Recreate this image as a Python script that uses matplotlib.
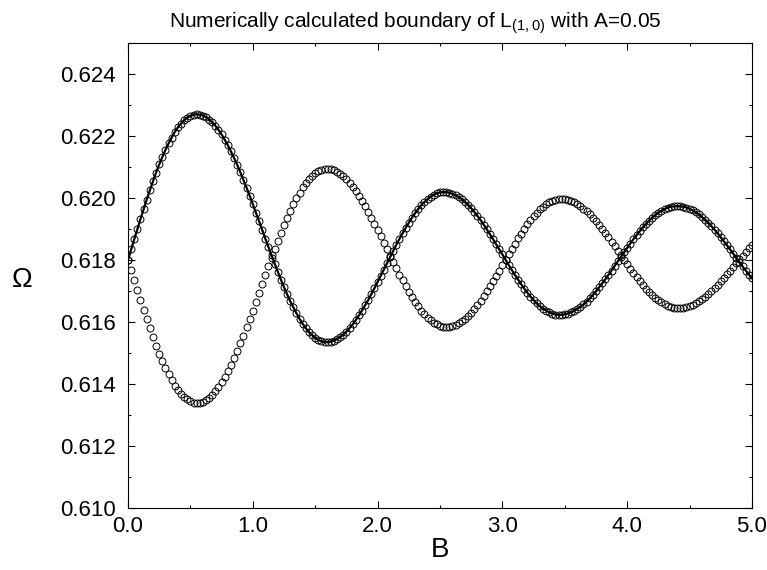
import numpy as np
from matplotlib import pyplot as plt
from matplotlib.ticker import MultipleLocator

plt.rcParams['font.family'] = ['Liberation Sans', 'DejaVu Sans']
plt.rcParams['mathtext.fontset'] = 'custom'
plt.rcParams['mathtext.rm'] = 'Liberation Sans'

# B grid (step 0.025)
b = np.round(np.arange(201) * 0.025, 3)

# branch starting upward (also traced by the solid line)
omega_up = [
    0.61800, 0.61834, 0.61867, 0.61900, 0.61932, 0.61964, 0.61995, 0.62025, 0.62054, 0.62082,
    0.62108, 0.62132, 0.62155, 0.62176, 0.62195, 0.62213, 0.62228, 0.62240, 0.62251, 0.62259,
    0.62265, 0.62269, 0.62270,
    0.62269, 0.62266, 0.62261, 0.62253, 0.62244, 0.62233, 0.62220, 0.62205, 0.62188, 0.62170,
    0.62150, 0.62129, 0.62107, 0.62083, 0.62058, 0.62033, 0.62007, 0.61980, 0.61952, 0.61925,
    0.61897, 0.61869, 0.61842, 0.61815, 0.61788, 0.61762, 0.61737, 0.61712, 0.61689, 0.61667,
    0.61647, 0.61628, 0.61610, 0.61594, 0.61580, 0.61567, 0.61557, 0.61549, 0.61542, 0.61538,
    0.61535,
    0.61535, 0.61537, 0.61540, 0.61545, 0.61551, 0.61559, 0.61569, 0.61580, 0.61592, 0.61606,
    0.61621, 0.61637, 0.61654, 0.61671, 0.61690, 0.61709, 0.61729, 0.61749, 0.61769, 0.61789,
    0.61809, 0.61829, 0.61849, 0.61868, 0.61886, 0.61904, 0.61920, 0.61936, 0.61951, 0.61964,
    0.61977, 0.61987, 0.61996, 0.62004, 0.62010, 0.62015, 0.62018, 0.62019,
    0.62019, 0.62017, 0.62013, 0.62009, 0.62003, 0.61996, 0.61987, 0.61978, 0.61967, 0.61955,
    0.61942, 0.61929, 0.61914, 0.61899, 0.61883, 0.61867, 0.61851, 0.61834, 0.61818, 0.61801,
    0.61784, 0.61768, 0.61752, 0.61737, 0.61722, 0.61708, 0.61695, 0.61682, 0.61671, 0.61660,
    0.61651, 0.61643, 0.61637, 0.61631, 0.61627, 0.61624, 0.61623,
    0.61623, 0.61625, 0.61627, 0.61631, 0.61636, 0.61642, 0.61649, 0.61657, 0.61666, 0.61676,
    0.61687, 0.61699, 0.61712, 0.61725, 0.61738, 0.61752, 0.61766, 0.61781, 0.61796, 0.61810,
    0.61825, 0.61839, 0.61853, 0.61867, 0.61880, 0.61893, 0.61905, 0.61916, 0.61927, 0.61936,
    0.61945, 0.61952, 0.61959, 0.61964, 0.61969, 0.61972, 0.61973, 0.61974,
    0.61973, 0.61972, 0.61969, 0.61965, 0.61960, 0.61954, 0.61947, 0.61938, 0.61929, 0.61920,
    0.61909, 0.61898, 0.61886, 0.61873, 0.61860, 0.61847, 0.61834, 0.61820, 0.61807, 0.61793,
    0.61779, 0.61766, 0.61753, 0.61741,
]

# branch starting downward
omega_down = [
    0.61800, 0.61767, 0.61734, 0.61702, 0.61670, 0.61639, 0.61609, 0.61579, 0.61551, 0.61524,
    0.61498, 0.61474, 0.61452, 0.61431, 0.61412, 0.61395, 0.61381, 0.61368, 0.61358, 0.61350,
    0.61344, 0.61340, 0.61339,
    0.61340, 0.61343, 0.61349, 0.61356, 0.61366, 0.61377, 0.61391, 0.61406, 0.61423, 0.61442,
    0.61462, 0.61484, 0.61507, 0.61531, 0.61556, 0.61583, 0.61610, 0.61637, 0.61665, 0.61694,
    0.61722, 0.61751, 0.61779, 0.61807, 0.61834, 0.61861, 0.61887, 0.61912, 0.61936, 0.61958,
    0.61979, 0.61999, 0.62017, 0.62034, 0.62048, 0.62061, 0.62072, 0.62080, 0.62087, 0.62091,
    0.62094,
    0.62094, 0.62092, 0.62089, 0.62084, 0.62078, 0.62070, 0.62060, 0.62049, 0.62036, 0.62022,
    0.62007, 0.61991, 0.61974, 0.61956, 0.61937, 0.61917, 0.61897, 0.61876, 0.61856, 0.61835,
    0.61814, 0.61793, 0.61773, 0.61753, 0.61734, 0.61715, 0.61697, 0.61680, 0.61665, 0.61650,
    0.61637, 0.61625, 0.61614, 0.61605, 0.61598, 0.61592, 0.61587, 0.61585,
    0.61584, 0.61585, 0.61587, 0.61591, 0.61596, 0.61603, 0.61611, 0.61620, 0.61630, 0.61642,
    0.61655, 0.61669, 0.61683, 0.61699, 0.61715, 0.61731, 0.61749, 0.61766, 0.61783, 0.61801,
    0.61819, 0.61836, 0.61853, 0.61870, 0.61885, 0.61901, 0.61915, 0.61929, 0.61941, 0.61953,
    0.61963, 0.61972, 0.61980, 0.61986, 0.61991, 0.61995, 0.61997,
    0.61997, 0.61996, 0.61994, 0.61991, 0.61986, 0.61981, 0.61974, 0.61966, 0.61957, 0.61948,
    0.61937, 0.61925, 0.61913, 0.61900, 0.61887, 0.61873, 0.61859, 0.61845, 0.61830, 0.61815,
    0.61800, 0.61786, 0.61772, 0.61758, 0.61744, 0.61731, 0.61719, 0.61707, 0.61697, 0.61687,
    0.61678, 0.61670, 0.61663, 0.61657, 0.61652, 0.61649, 0.61646, 0.61645,
    0.61645, 0.61646, 0.61648, 0.61652, 0.61656, 0.61661, 0.61667, 0.61674, 0.61682, 0.61690,
    0.61699, 0.61709, 0.61720, 0.61731, 0.61742, 0.61754, 0.61766, 0.61778, 0.61790, 0.61802,
    0.61814, 0.61826, 0.61838, 0.61849,
]

fig = plt.figure(figsize=(7.67, 5.70), dpi=100)
ax = fig.add_axes([0.1669, 0.1088, 0.8135, 0.8158])

ax.plot(b, omega_up, 'o', ms=5, mfc='none', mec='black', mew=0.7)
ax.plot(b, omega_down, 'o', ms=5, mfc='none', mec='black', mew=0.7)
ax.plot(b, omega_up, '-', color='black', lw=1.6)

ax.set_xlim(0, 5)
ax.set_ylim(0.610, 0.625)
ax.xaxis.set_major_locator(MultipleLocator(1.0))
ax.xaxis.set_minor_locator(MultipleLocator(0.5))
ax.yaxis.set_major_locator(MultipleLocator(0.002))
ax.yaxis.set_minor_locator(MultipleLocator(0.001))
ax.set_xticks(np.arange(0, 5.01, 1.0))
ax.set_xticklabels(['0.0', '1.0', '2.0', '3.0', '4.0', '5.0'])
ax.set_yticks(np.arange(0.610, 0.6241, 0.002))
ax.set_yticklabels(['0.610', '0.612', '0.614', '0.616', '0.618', '0.620', '0.622', '0.624'])

ax.tick_params(which='both', direction='in', top=True, right=True, labelsize=16)
ax.tick_params(which='major', length=5, width=0.8)
ax.tick_params(which='minor', length=2.5, width=0.8)
ax.tick_params(axis='y', pad=9)
ax.tick_params(axis='x', pad=6)
for s in ax.spines.values():
    s.set_linewidth(0.8)

ax.set_xlabel('B', fontsize=20, labelpad=0)
ax.set_ylabel('\u03a9', fontsize=20, rotation=0, va='center', ha='center')
ax.yaxis.set_label_coords(-0.17, 0.49)
ax.set_title('Numerically calculated boundary of $\\mathregular{L_{(1,0)}}$ with A=0.05',
             fontsize=15, pad=11, x=0.46)

plt.savefig('out.png', dpi=100)
